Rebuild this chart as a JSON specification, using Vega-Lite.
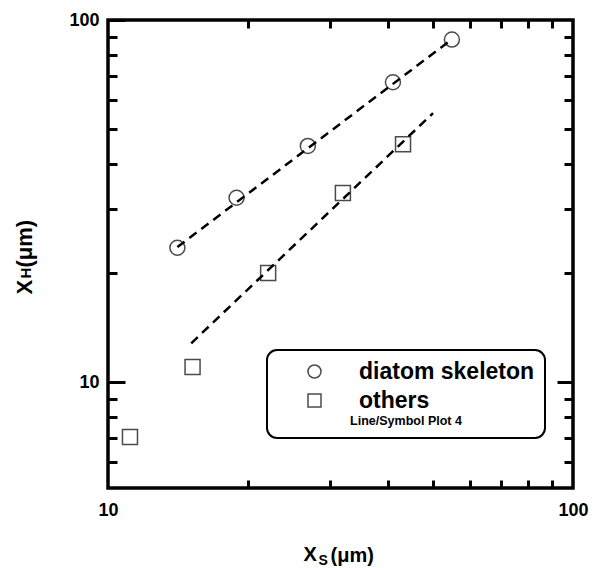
{
  "$schema": "https://vega.github.io/schema/vega-lite/v6.json",
  "width": 465,
  "height": 468,
  "autosize": "none",
  "padding": {"left": 108, "top": 20, "right": 23, "bottom": 80},
  "background": "white",
  "config": {
    "view": {"stroke": "black", "strokeWidth": 3.5},
    "font": "Liberation Sans",
    "axis": {
      "domain": false,
      "grid": false,
      "ticks": true,
      "zindex": 1,
      "tickColor": "black",
      "tickOpacity": 1,
      "tickWidth": 3,
      "labelFont": "Liberation Sans",
      "labelFontWeight": "bold",
      "labelFontSize": 18,
      "labelColor": "black",
      "labelFlush": false,
      "titleFont": "Liberation Sans",
      "titleFontWeight": "bold",
      "titleColor": "black"
    },
    "legend": {
      "orient": "none",
      "legendX": 159,
      "legendY": 330,
      "strokeColor": "black",
      "strokeWidth": 2,
      "cornerRadius": 10,
      "fillColor": "white",
      "padding": 10,
      "symbolOffset": 26,
      "labelOffset": 33,
      "symbolSize": 169,
      "symbolStrokeWidth": 1.5,
      "symbolStrokeColor": "black",
      "symbolFillColor": "transparent",
      "labelFont": "Liberation Sans",
      "labelFontWeight": "bold",
      "labelFontSize": 23,
      "labelColor": "black",
      "labelLimit": 400,
      "rowPadding": 5,
      "titleOrient": "bottom",
      "titleAnchor": "middle",
      "titleAlign": "center",
      "titleFont": "Liberation Sans",
      "titleFontWeight": "bold",
      "titleFontSize": 12.5,
      "titleColor": "black",
      "titleLimit": 400,
      "titlePadding": 2
    }
  },
  "datasets": {
    "points": [
      {"series": "diatom skeleton", "x": 14.1, "y": 23.5},
      {"series": "diatom skeleton", "x": 18.9, "y": 32.3},
      {"series": "diatom skeleton", "x": 26.9, "y": 44.9},
      {"series": "diatom skeleton", "x": 41.0, "y": 67.3},
      {"series": "diatom skeleton", "x": 54.9, "y": 88.3},
      {"series": "others", "x": 11.15, "y": 7.05},
      {"series": "others", "x": 15.2, "y": 11.0},
      {"series": "others", "x": 22.1, "y": 20.0},
      {"series": "others", "x": 32.0, "y": 33.3},
      {"series": "others", "x": 43.1, "y": 45.4}
    ],
    "fits": [
      {"series": "diatom skeleton", "x": 14.1, "y": 23.6},
      {"series": "diatom skeleton", "x": 54.8, "y": 88.3},
      {"series": "others", "x": 15.1, "y": 12.8},
      {"series": "others", "x": 50.0, "y": 55.3}
    ]
  },
  "resolve": {"axis": {"x": "independent", "y": "independent"}},
  "layer": [
    {
      "data": {"name": "fits"},
      "transform": [{"filter": "datum.series === 'diatom skeleton'"}],
      "mark": {"type": "line", "color": "black", "strokeWidth": 2.5, "strokeDash": [9, 6]},
      "encoding": {
        "x": {
          "field": "x", "type": "quantitative",
          "scale": {"type": "log", "domain": [10, 100], "nice": false},
          "axis": {
            "orient": "bottom", "values": [10, 100], "ticks": false, "labels": true,
            "labelPadding": 13, "labelBaseline": "top", "format": "d",
            "title": "X", "titleFontSize": 20, "titleAlign": "left", "titleBaseline": "alphabetic",
            "titleAngle": 0, "titleX": 195, "titleY": 72
          }
        },
        "y": {
          "field": "y", "type": "quantitative",
          "scale": {"type": "log", "domain": [5.1, 100], "nice": false},
          "axis": {
            "orient": "left", "values": [10, 100], "offset": -17, "ticks": true, "tickSize": 17, "labelPadding": 9, "format": "d",
            "title": "X", "titleFontSize": 22, "titleAngle": 270, "titleAlign": "left",
            "titleBaseline": "alphabetic", "titleX": -94, "titleY": 274
          }
        }
      }
    },
    {
      "data": {"name": "fits"},
      "transform": [{"filter": "datum.series === 'others'"}],
      "mark": {"type": "line", "color": "black", "strokeWidth": 2.5, "strokeDash": [9, 6]},
      "encoding": {
        "x": {
          "field": "x", "type": "quantitative",
          "scale": {"type": "log", "domain": [10, 100], "nice": false},
          "axis": {
            "orient": "bottom", "values": [20, 30, 40, 50, 60, 70, 80, 90], "offset": -8, "ticks": true, "tickSize": 8, "labels": false,
            "title": "(μm)", "titleFontSize": 20, "titleAlign": "left", "titleBaseline": "alphabetic",
            "titleAngle": 0, "titleX": 222, "titleY": 81
          }
        },
        "y": {
          "field": "y", "type": "quantitative",
          "scale": {"type": "log", "domain": [5.1, 100], "nice": false},
          "axis": {
            "orient": "left", "values": [6, 7, 8, 9, 20, 30, 40, 50, 60, 70, 80, 90], "offset": -9, "ticks": true, "tickSize": 9, "labels": false,
            "title": "(μm)", "titleFontSize": 22, "titleAngle": 270, "titleAlign": "left",
            "titleBaseline": "alphabetic", "titleX": -86, "titleY": 247
          }
        }
      }
    },
    {
      "data": {"name": "points"},
      "transform": [{"filter": "datum.series === 'diatom skeleton'"}],
      "mark": {"type": "point", "filled": false, "color": "black", "strokeWidth": 1.5, "size": 225},
      "encoding": {
        "x": {
          "field": "x", "type": "quantitative",
          "scale": {"type": "log", "domain": [10, 100], "nice": false},
          "axis": {
            "orient": "top", "values": [20, 30, 40, 50, 60, 70, 80, 90], "offset": -8, "ticks": true, "tickSize": 8, "labels": false,
            "title": "S", "titleFontSize": 14, "titleAlign": "left", "titleBaseline": "alphabetic",
            "titleAngle": 0, "titleX": 210, "titleY": 536
          }
        },
        "y": {
          "field": "y", "type": "quantitative",
          "scale": {"type": "log", "domain": [5.1, 100], "nice": false},
          "axis": {
            "orient": "right", "values": [10], "offset": -16, "ticks": true, "tickSize": 16, "labels": false,
            "title": "H", "titleFontSize": 15, "titleAngle": 270, "titleAlign": "left",
            "titleBaseline": "alphabetic", "titleX": -527, "titleY": 258
          }
        },
        "shape": {
          "field": "series", "type": "nominal",
          "scale": {"domain": ["diatom skeleton", "others"], "range": ["circle", "square"]},
          "legend": {"title": "Line/Symbol Plot 4"}
        }
      }
    },
    {
      "data": {"name": "points"},
      "transform": [{"filter": "datum.series === 'others'"}],
      "mark": {"type": "point", "filled": false, "color": "black", "strokeWidth": 1.5, "size": 225, "shape": "square"},
      "encoding": {
        "x": {
          "field": "x", "type": "quantitative",
          "scale": {"type": "log", "domain": [10, 100], "nice": false},
          "axis": null
        },
        "y": {
          "field": "y", "type": "quantitative",
          "scale": {"type": "log", "domain": [5.1, 100], "nice": false},
          "axis": {
            "orient": "right", "values": [6, 7, 8, 9, 20, 30, 40, 50, 60, 70, 80, 90], "offset": -9, "ticks": true, "tickSize": 9, "labels": false,
            "title": null
          }
        }
      }
    }
  ]
}
